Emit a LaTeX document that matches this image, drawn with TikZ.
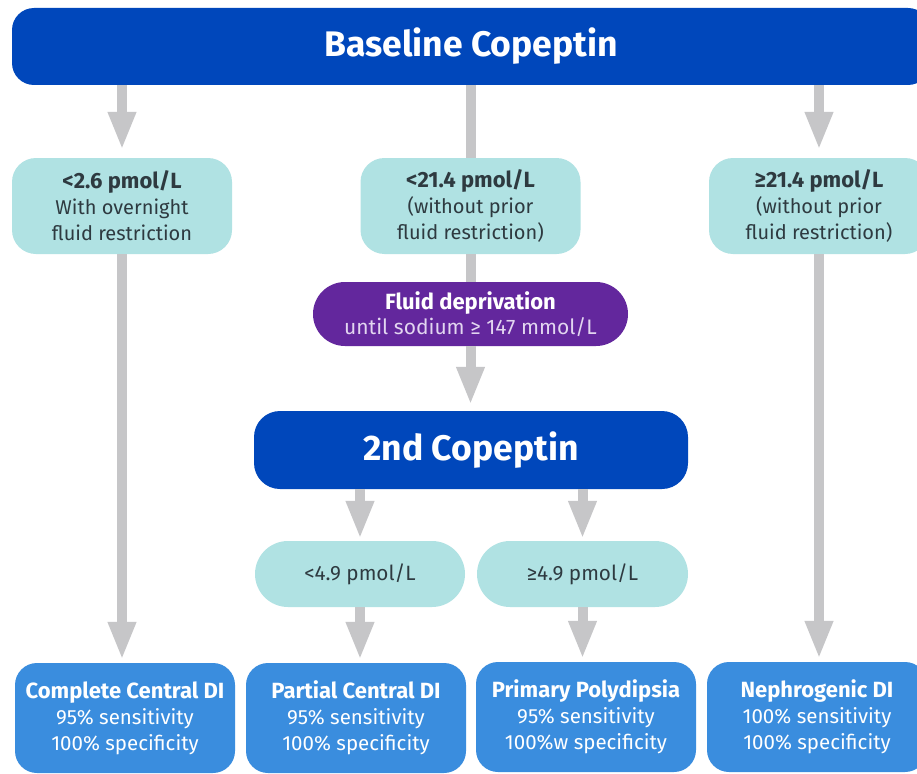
\documentclass[tikz,border=0pt]{standalone}
\usepackage{fontspec}
\setmainfont{Fira Sans}
\usepackage{xcolor}
\usetikzlibrary{arrows.meta,positioning,calc}
\definecolor{copblue}{HTML}{0047BB}
\definecolor{cutteal}{HTML}{B0E2E3}
\definecolor{cuttext}{HTML}{2E3A40}
\definecolor{depurple}{HTML}{63279D}
\definecolor{lavtext}{HTML}{E2D6F0}
\definecolor{dxblue}{HTML}{3A8DDE}
\definecolor{pipegray}{HTML}{C6C6C8}
\newcommand\boxhead[1]{{\fontsize{22}{26}\selectfont\bfseries #1}}

\begin{document}
\begin{tikzpicture}[x=1pt, y=-1pt,
  box/.style = {align = center, inner sep = 0pt},
  copbox/.style = {box, fill = copblue, text = white, font = \bfseries\fontsize{35.5}{40}\selectfont},
  cutbox/.style = {box, fill = cutteal, text = cuttext, rounded corners = 24pt, minimum width = 220pt, minimum height = 96pt, font = \fontsize{20}{26}\selectfont},
  pillbox/.style = {box, fill = cutteal, text = cuttext, rounded corners = 33pt, minimum width = 211pt, minimum height = 66pt, font = \fontsize{20.7}{26}\selectfont},
  dxbox/.style = {box, fill = dxblue, text = white, rounded corners = 22pt, minimum width = 220pt, minimum height = 110pt, font = \fontsize{20.5}{26}\selectfont},
  pipe/.style = {draw = pipegray, line width = 10pt},
  arr/.style = {pipe, -{Triangle[width = 26pt, length = 38pt]}},
]
\useasboundingbox[fill = white] (0,0) rectangle (917,773);

% top
\node[copbox, rounded corners = 22pt, minimum width = 918pt, minimum height = 77pt] (base) at (471,46.5) {Baseline Copeptin};

% first cut-offs
\node[cutbox] (cutlow) at (122,206) {\boxhead{<2.6 pmol/L}\\With overnight\\fluid restriction};
\node[cutbox] (cutmid) at (470.5,206) {\boxhead{<21.4 pmol/L}\\(without prior\\fluid restriction)};
\node[cutbox] (cuthigh) at (819,206) {\boxhead{≥21.4 pmol/L}\\(without prior\\fluid restriction)};

% deprivation test
\node[box, fill = depurple, text = white, rounded corners = 32pt, minimum width = 315pt, minimum height = 64pt, font = \fontsize{21}{25}\selectfont] (depr) at (470.5,314) {\boxhead{Fluid deprivation}\\\color{lavtext}until sodium ≥ 147 mmol/L};
\node[copbox, rounded corners = 26pt, minimum width = 434pt, minimum height = 78pt] (second) at (471,450) {2nd Copeptin};

% second cut-offs
\node[pillbox, minimum width = 210pt] (seclow) at (360,574) {<4.9 pmol/L};
\node[pillbox] (sechigh) at (582.5,574) {≥4.9 pmol/L};

% diagnoses
\node[dxbox] (ccdi) at (125,718) {\boxhead{Complete Central DI}\\95\% sensitivity\\100\% specificity};
\node[dxbox] (pcdi) at (356,718) {\boxhead{Partial Central DI}\\95\% sensitivity\\100\% specificity};
\node[dxbox] (ppd) at (586,717) {\boxhead{Primary Polydipsia}\\95\% sensitivity\\100\%w specificity};
\node[dxbox] (ndi) at (817,717) {\boxhead{Nephrogenic DI}\\100\% sensitivity\\100\% specificity};

% connectors
\draw[arr, shorten > = 8pt] (base.south -| cutlow) -- (cutlow.north);
\draw[pipe] (base.south -| cutmid) -- (cutmid.north);
\draw[arr, shorten > = 8pt] (base.south -| cuthigh) -- (cuthigh.north);
\draw[pipe] (cutmid.south) -- (depr.north);
\draw[arr, shorten > = 6pt] (depr.south) -- (second.north -| depr);
\draw[arr, shorten > = 2pt] (second.south -| seclow) -- (seclow.north);
\draw[arr, shorten > = 2pt] (second.south -| sechigh) -- (sechigh.north);
\draw[arr, shorten > = 3pt] (seclow.south) -- (seclow.south |- pcdi.north);
\draw[arr, shorten > = 3pt] (sechigh.south) -- (sechigh.south |- ppd.north);
\draw[arr, shorten > = 3pt] (cutlow.south) -- (cutlow.south |- ccdi.north);
\draw[arr, shorten > = 3pt] (cuthigh.south) -- (cuthigh.south |- ndi.north);
\end{tikzpicture}
\end{document}
